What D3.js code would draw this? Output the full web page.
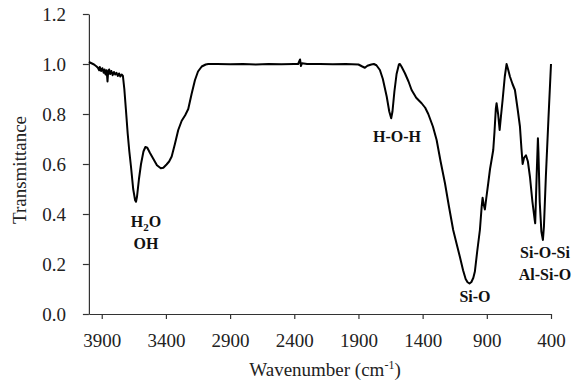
<!DOCTYPE html>
<html>
<head>
<meta charset="utf-8">
<script src="https://cdn.jsdelivr.net/npm/d3@7"></script>
<style>
body { margin: 0; background: #fff; }
text { font-family: "Liberation Serif", "Times New Roman", serif; }
</style>
</head>
<body>
<script>
var width = 577;
var height = 385;

// FTIR spectrum
var wavenumbers = [4000, 3980, 3960, 3940, 3930, 3920, 3915, 3905, 3895, 3885, 3878, 3870, 3862, 3855, 3850, 3842, 3835, 3825, 3815, 3805, 3795, 3785, 3775, 3765, 3755, 3745, 3735,
    3724, 3712, 3698, 3685, 3672, 3655, 3640, 3633, 3625, 3610, 3594, 3575, 3560, 3545, 3525, 3503, 3470, 3440, 3420, 3395, 3375, 3355, 3330, 3304, 3277, 3250, 3226, 3200, 3174, 3150, 3121, 3090, 3070,
    3000, 2900, 2800, 2700, 2600, 2500, 2400, 2370, 2355, 2348, 2340, 2300, 2200, 2100, 2000, 1900, 1870, 1850, 1830, 1800, 1780, 1760,
    1733, 1710, 1680, 1660, 1645, 1635, 1620, 1603, 1585, 1577, 1565, 1538, 1510, 1486, 1450, 1408, 1380, 1356, 1320, 1291, 1260, 1226, 1195, 1162, 1135, 1110, 1085, 1065, 1050, 1035, 1020, 1005,
    993, 975, 954, 940, 933, 925, 915, 905, 889, 875, 863, 850, 840, 830, 824, 812, 800, 790, 777, 760, 746, 735, 720, 700, 681, 660, 642, 630, 621, 610, 595, 580, 564, 545,
    528, 523, 512, 502, 498, 488, 475, 463, 455, 440, 420, 400];
var transmittance = [1.008, 1.003, 0.998, 0.99, 0.985, 0.975, 0.988, 0.972, 0.983, 0.965, 0.978, 0.958, 0.975, 0.93, 0.968, 0.978, 0.96, 0.972, 0.955, 0.968, 0.958, 0.965, 0.952, 0.962, 0.95, 0.958, 0.952,
    0.9, 0.82, 0.723, 0.65, 0.589, 0.5, 0.455, 0.449, 0.47, 0.54, 0.6, 0.65, 0.668, 0.665, 0.645, 0.625, 0.595, 0.583, 0.585, 0.598, 0.61, 0.63, 0.68, 0.736, 0.773, 0.795, 0.82, 0.88, 0.935, 0.97, 0.99, 0.998, 1.0,
    1.0, 0.999, 1.0, 0.998, 1.0, 0.999, 1.0, 1.0, 1.018, 0.992, 1.003, 1.0, 1.0, 0.999, 1.0, 0.998, 0.99, 0.985, 0.993, 0.998, 1.0, 0.995,
    0.976, 0.94, 0.87, 0.81, 0.783, 0.81, 0.89, 0.96, 0.998, 1.0, 0.99, 0.963, 0.93, 0.896, 0.865, 0.843, 0.825, 0.8, 0.75, 0.696, 0.61, 0.523, 0.43, 0.336, 0.28, 0.229, 0.175, 0.14, 0.127, 0.122, 0.128, 0.145,
    0.17, 0.25, 0.336, 0.43, 0.465, 0.44, 0.418, 0.46, 0.523, 0.58, 0.616, 0.656, 0.73, 0.82, 0.843, 0.8, 0.736, 0.79, 0.856, 0.95, 1.0, 0.98, 0.95, 0.92, 0.896, 0.82, 0.75, 0.66, 0.6, 0.625, 0.635, 0.61, 0.549, 0.45,
    0.38, 0.363, 0.55, 0.703, 0.65, 0.45, 0.33, 0.296, 0.35, 0.55, 0.78, 1.0];

var xTicks = [3900, 3400, 2900, 2400, 1900, 1400, 900, 400];
var yTicks = [0, 0.2, 0.4, 0.6, 0.8, 1.0, 1.2];

var bands = [
    {lines: ["H2O", "OH"], w: 3630},
    {lines: ["H-O-H"], w: 1640},
    {lines: ["Si-O"], w: 1040},
    {lines: ["Si-O-Si", "Al-Si-O"], w: 440}
];

var x = d3.scaleLinear().domain([4000, 400]).range([88.9, 551]);
var y = d3.scaleLinear().domain([0, 1.2]).range([314, 14]);

var svg = d3.select("body")
    .append("svg")
    .attr("width", width)
    .attr("height", height);

// axes
var xAxis = svg.append("g")
    .attr("transform", "translate(0," + y(0) + ")")
    .call(d3.axisBottom(x).tickValues(xTicks).tickSize(5).tickSizeOuter(0).tickPadding(15).tickFormat(d3.format("d")));

var yAxis = svg.append("g")
    .attr("transform", "translate(" + x(4000) + ",0)")
    .call(d3.axisLeft(y).tickValues(yTicks).tickSize(6).tickSizeOuter(0).tickPadding(17).tickFormat(d3.format(".1f")));

svg.selectAll(".domain, .tick line")
    .attr("stroke", "#333")
    .attr("stroke-width", 1.2);

svg.selectAll(".tick text")
    .attr("font-size", "19px")
    .attr("fill", "#222");

// spectrum
var points = wavenumbers.map(function(w, i) { return [w, transmittance[i]]; });

svg.append("path")
    .datum(points)
    .attr("fill", "none")
    .attr("stroke", "#000")
    .attr("stroke-width", 2)
    .attr("stroke-linejoin", "round")
    .attr("d", d3.line()
        .x(function(d) { return x(d[0]); })
        .y(function(d) { return y(d[1]); }));

// axis titles
var xt = svg.append("text")
    .attr("x", 325)
    .attr("y", 376)
    .attr("text-anchor", "middle")
    .attr("font-size", "19px")
    .attr("fill", "#222")
    .text("Wavenumber (cm");
xt.append("tspan").attr("font-size", "12px").attr("dy", -7).text("-1");
xt.append("tspan").attr("dy", 7).text(")");

svg.append("text")
    .attr("transform", "translate(26,170) rotate(-90)")
    .attr("text-anchor", "middle")
    .attr("font-size", "19px")
    .attr("fill", "#222")
    .text("Transmittance");

// band labels
var labelPos = [[146, 227], [397, 142], [475, 302], [545, 258]];

bands.forEach(function(b, i) {
    b.lines.forEach(function(s, j) {
        var t = svg.append("text")
            .attr("x", labelPos[i][0])
            .attr("y", labelPos[i][1] + j * 22)
            .attr("text-anchor", "middle")
            .attr("font-size", "16px")
            .attr("font-weight", "bold")
            .attr("fill", "#111");
        if (s == "H2O") {
            t.append("tspan").text("H");
            t.append("tspan").attr("font-size", "11px").attr("dy", 4).text("2");
            t.append("tspan").attr("dy", -4).text("O");
        } else {
            t.text(s);
        }
    });
});
</script>
</body>
</html>
